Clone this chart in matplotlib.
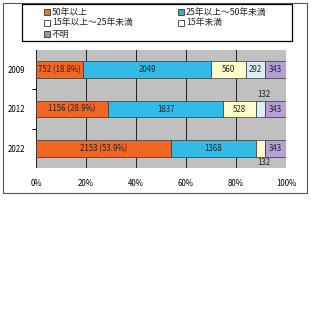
import numpy as np
import matplotlib.pyplot as plt
from matplotlib.patches import Rectangle

plt.rcParams['font.family'] = ['Noto Sans CJK JP', 'DejaVu Sans']

# datos
anios = ['2009', '2012', '2022']
series = ['50年以上', '25年以上～50年未満', '15年以上～25年未満', '15年未満', '不明']
valores = {
    '50年以上': [752, 1156, 2153],
    '25年以上～50年未満': [2049, 1837, 1368],
    '15年以上～25年未満': [560, 528, 132],
    '15年未満': [292, 132, 0],
    '不明': [343, 343, 343],
}
colores = ['#F26522', '#33BBE8', '#FFFFCC', '#DDEFF6', '#B49FD6']
colores_leyenda = ['#E2763A', '#3AAAC8', '#FFFFFF', '#FFFFFF', '#9A93B8']

W = 311
fig = plt.figure(figsize=(3.11, 3.11), dpi=100)

def px(x, y):
    # pixeles (desde arriba-izquierda) a coordenadas de figura
    return x / W, 1 - y / W

fig.patches.append(Rectangle(px(3, 193), 304/W, 190/W, transform=fig.transFigure,
                             fill=False, edgecolor='#555555', linewidth=0.8))

ax = fig.add_axes([36/W, 1-168/W, 250/W, 118/W])
ax.set_facecolor('#C0C0C0')

tot = np.sum([valores[s] for s in series], axis=0)
y = np.arange(len(anios))
izq = np.zeros(len(anios))
for s, c in zip(series, colores):
    v = np.array(valores[s])
    pct = v / tot * 100
    ax.barh(y, pct, left=izq, height=0.42, color=c, edgecolor='#333333', linewidth=0.5, zorder=3)
    for i in range(len(anios)):
        if v[i] == 0:
            continue
        xc = izq[i] + pct[i] / 2
        if s == '50年以上':
            txt = f'{v[i]} ({pct[i]:.1f}%)'
        else:
            txt = str(v[i])
        if pct[i] < 5:
            dy = 0.37 if i == 2 else -0.37
            ax.text(xc + 1.5, y[i] + dy, txt, ha='center', va='center', fontsize=5.7, color='#222222', zorder=4)
        else:
            ax.text(xc, y[i], txt, ha='center', va='center', fontsize=5.7, color='#222222', zorder=4)
    izq += pct

ax.set_xlim(0, 100)
ax.set_ylim(2.5, -0.5)
ax.set_xticks([0, 20, 40, 60, 80, 100])
ax.set_xticklabels(['0%', '20%', '40%', '60%', '80%', '100%'], fontsize=5.7)
ax.tick_params(axis='x', length=0, pad=8)
ax.set_yticks(y)
ax.set_yticklabels(anios, fontsize=5.7)
ax.tick_params(axis='y', which='major', length=0, pad=8)
ax.set_yticks([0.5, 1.5], minor=True)
ax.tick_params(axis='y', which='minor', length=3, width=0.7, direction='out')
ax.grid(axis='x', color='#222222', linewidth=0.7, zorder=1)
for lado in ['top', 'right', 'bottom', 'left']:
    ax.spines[lado].set_visible(False)

# leyenda dibujada a mano
fig.patches.append(Rectangle(px(22, 41), 270/W, 37/W, transform=fig.transFigure,
                             fill=False, edgecolor='black', linewidth=0.9))
pos_leyenda = [(44, 12), (178, 12), (44, 23), (178, 23), (44, 34)]
for (lx, ly), i in zip(pos_leyenda, range(len(series))):
    fig.patches.append(Rectangle(px(lx, ly + 3), 6/W, 6/W, transform=fig.transFigure,
                                 facecolor=colores_leyenda[i], edgecolor='#333333', linewidth=0.6))
    fx, fy = px(lx + 8, ly)
    fig.text(fx, fy, series[i], ha='left', va='center', fontsize=6.3, color='#222222')

fig.savefig('out.png', dpi=100)
